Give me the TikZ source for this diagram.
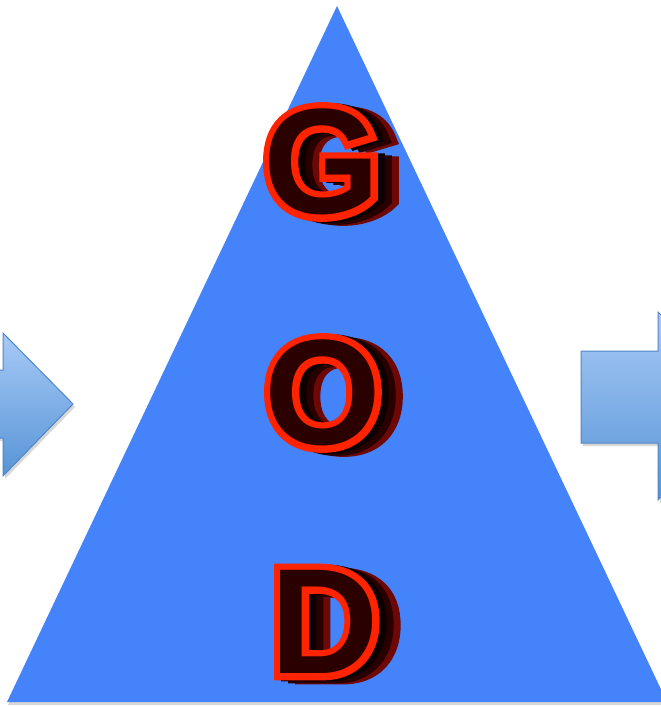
\documentclass[tikz,border=0pt]{standalone}
\usepackage{fontspec}
\setmainfont{Liberation Sans}
\newfontfamily\rimfont{Liberation Sans}[FakeBold=9]

\definecolor{pyramid}{RGB}{69,131,250}
\definecolor{arrowtop}{RGB}{168,202,246}
\definecolor{arrowbot}{RGB}{86,148,214}
\definecolor{arrowrim}{RGB}{78,134,200}
\definecolor{rimred}{RGB}{255,35,0}
\definecolor{facedark}{RGB}{42,0,0}
\definecolor{sidenear}{RGB}{12,0,0}
\definecolor{sidemid}{RGB}{40,0,0}
\definecolor{sidefar}{RGB}{110,8,4}

\tikzset{
  letterbox/.style={font=\fontsize{150}{155}\selectfont\bfseries, inner sep=0pt, anchor=center},
  rimbox/.style={font=\fontsize{150}{155}\selectfont\rimfont\bfseries, inner sep=0pt, anchor=center},
  blockarrow/.style={draw=arrowrim, line width=1pt, top color=arrowtop, bottom color=arrowbot},
  dropshadow/.style={fill=black!35, opacity=0.45}
}

% one extruded letter: name, letter, x, y
\newcommand{\godletter}[4]{%
  \node[rimbox, text=sidefar] (#1-back) at (#3+21, #4+4) {#2};
  \node[rimbox, text=sidemid] (#1-mid) at (#3+14, #4+3) {#2};
  \node[rimbox, text=sidenear] (#1-side) at (#3+7, #4+1) {#2};
  \node[rimbox, text=rimred] (#1-rim) at (#3,#4) {#2};
  \node[letterbox, text=facedark] (#1) at (#3,#4) {#2};
}

\begin{document}
\begin{tikzpicture}[x=1pt,y=-1pt]
  \useasboundingbox (0,0) rectangle (661,707);
  \clip (0,0) rectangle (661,707);

  % pyramid
  \fill[dropshadow] (338,9) -- (668,705) -- (8,705) -- cycle;
  \fill[pyramid] (337,6) -- (667,702) -- (7,702) -- cycle;

  % arrows
  \fill[dropshadow] (-20,373) -- (5,373) -- (5,336) -- (75,407) -- (5,479) -- (5,441) -- (-20,441) -- cycle;
  \draw[blockarrow] (-20,370) -- (3,370) -- (3,333) -- (73,404) -- (3,476) -- (3,438) -- (-20,438) -- cycle;

  \fill[dropshadow] (583,354) -- (660,354) -- (660,315) -- (754,409) -- (660,503) -- (660,446) -- (583,446) -- cycle;
  \draw[blockarrow] (581,351) -- (658,351) -- (658,312) -- (752,406) -- (658,500) -- (658,443) -- (581,443) -- cycle;

  % letters
  \godletter{g}{G}{322}{162}
  \godletter{o}{O}{323}{393}
  \godletter{d}{D}{325}{622}
\end{tikzpicture}
\end{document}
